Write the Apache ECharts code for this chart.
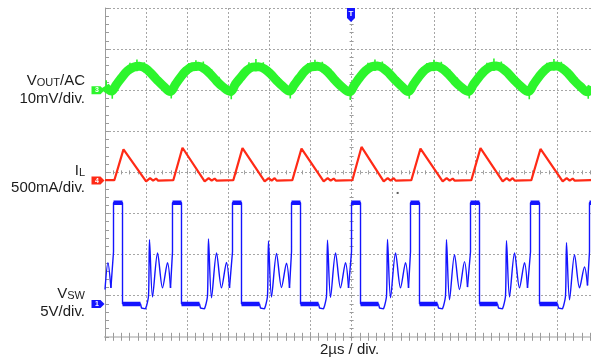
<!DOCTYPE html>
<html><head><meta charset="utf-8">
<script src="https://cdn.jsdelivr.net/npm/echarts@6/dist/echarts.min.js"></script>
<style>html,body{margin:0;padding:0;background:#fff}#c{width:591px;height:360px}</style>
</head><body><div id="c"></div>
<script>
// time in divisions (2 µs/div), amplitude in divisions
const voutTrace = [
 [0,6.10],[0.06,6.03],
 [0.157,5.98],[0.279,6.14],[0.400,6.30],[0.546,6.47],[0.692,6.56],[0.838,6.58],[0.984,6.53],[1.130,6.40],[1.276,6.24],[1.422,6.10],
 [1.592,5.97],[1.714,6.14],[1.835,6.31],[1.981,6.48],[2.127,6.57],[2.273,6.58],[2.419,6.52],[2.565,6.39],[2.711,6.23],[2.857,6.09],
 [3.052,5.97],[3.174,6.15],[3.295,6.30],[3.441,6.47],[3.587,6.56],[3.733,6.57],[3.879,6.52],[4.025,6.40],[4.171,6.24],[4.317,6.10],
 [4.488,5.98],[4.610,6.14],[4.731,6.30],[4.877,6.48],[5.023,6.57],[5.169,6.58],[5.315,6.53],[5.461,6.40],[5.607,6.23],[5.753,6.09],
 [5.948,5.96],[6.070,6.13],[6.191,6.30],[6.337,6.47],[6.483,6.57],[6.629,6.59],[6.775,6.53],[6.921,6.40],[7.067,6.24],[7.213,6.10],
 [7.383,5.97],[7.505,6.14],[7.626,6.31],[7.772,6.48],[7.918,6.57],[8.064,6.58],[8.210,6.52],[8.356,6.39],[8.502,6.23],[8.648,6.09],
 [8.843,5.97],[8.965,6.14],[9.086,6.30],[9.232,6.47],[9.378,6.57],[9.524,6.59],[9.670,6.53],[9.816,6.40],[9.962,6.24],[10.108,6.10],
 [10.303,5.97],[10.425,6.14],[10.546,6.31],[10.692,6.48],[10.838,6.58],[10.984,6.59],[11.130,6.53],[11.276,6.40],[11.422,6.23],[11.568,6.09],
 [11.738,5.96],[11.85,6.08]
];
// visible noise spikes on V_OUT: [time, low, high]
const voutNoise = [
 [0.03,5.96,6.24],[0.177,5.79,6.06],[0.337,6.10,6.36],[0.607,6.41,6.67],[0.777,6.46,6.75],[0.957,6.43,6.68],[1.157,6.25,6.50],[1.337,6.07,6.31],
 [1.612,5.80,6.07],[1.772,6.12,6.37],[2.042,6.40,6.66],[2.212,6.47,6.73],[2.392,6.45,6.70],[2.592,6.27,6.51],[2.772,6.08,6.33],
 [3.072,5.78,6.05],[3.232,6.13,6.36],[3.502,6.42,6.68],[3.672,6.46,6.76],[3.852,6.44,6.68],[4.052,6.26,6.50],[4.232,6.06,6.32],
 [4.508,5.80,6.06],[4.668,6.11,6.36],[4.938,6.41,6.66],[5.108,6.48,6.74],[5.288,6.43,6.69],[5.488,6.26,6.52],[5.668,6.08,6.31],
 [5.968,5.76,6.05],[6.128,6.12,6.37],[6.398,6.40,6.67],[6.568,6.47,6.75],[6.748,6.45,6.70],[6.948,6.27,6.50],[7.128,6.07,6.32],
 [7.403,5.79,6.06],[7.563,6.13,6.36],[7.833,6.42,6.66],[8.003,6.46,6.74],[8.183,6.44,6.69],[8.383,6.25,6.51],[8.563,6.08,6.31],
 [8.863,5.80,6.05],[9.023,6.11,6.37],[9.293,6.41,6.67],[9.463,6.47,6.77],[9.643,6.45,6.70],[9.843,6.26,6.50],[10.023,6.07,6.33],
 [10.323,5.78,6.06],[10.483,6.12,6.36],[10.753,6.42,6.67],[10.923,6.48,6.76],[11.103,6.44,6.69],[11.303,6.27,6.51],[11.483,6.08,6.31],
 [11.758,5.79,6.06]
];
const ilTrace = [
 [0,3.81],[0.227,3.81],[0.450,4.56],[1.000,3.78],[1.097,3.86],[1.170,3.80],[1.243,3.85],[1.292,3.80],
 [1.662,3.81],[1.885,4.60],[2.425,3.78],[2.522,3.86],[2.595,3.80],[2.668,3.85],[2.717,3.80],
 [3.122,3.81],[3.345,4.59],[3.885,3.78],[3.982,3.86],[4.055,3.80],[4.128,3.86],[4.177,3.80],
 [4.558,3.81],[4.781,4.58],[5.321,3.78],[5.418,3.86],[5.491,3.80],[5.564,3.85],[5.613,3.80],
 [6.018,3.81],[6.241,4.62],[6.781,3.78],[6.878,3.86],[6.951,3.80],[7.024,3.86],[7.073,3.80],
 [7.453,3.81],[7.676,4.58],[8.216,3.78],[8.313,3.86],[8.386,3.80],[8.459,3.85],[8.508,3.80],
 [8.913,3.81],[9.136,4.59],[9.676,3.78],[9.773,3.86],[9.846,3.80],[9.919,3.86],[9.968,3.80],
 [10.373,3.81],[10.596,4.57],[11.136,3.78],[11.233,3.86],[11.306,3.80],[11.379,3.85],[11.428,3.80],
 [11.808,3.81],[11.85,3.83]
];
// V_SW switching edges and flat levels (sharp part)
const vswPulse = [
 [0.144,1.19],[0.207,2.07],[0.207,3.26],[0.426,3.26],[0.426,0.80],[0.864,0.80],[0.888,0.70],[0.986,0.68],[1.010,0.75],'-',
 [1.594,1.19],[1.642,2.07],[1.642,3.26],[1.861,3.26],[1.861,0.80],[2.299,0.80],[2.323,0.70],[2.421,0.68],[2.445,0.75],'-',
 [3.029,1.19],[3.102,2.07],[3.102,3.26],[3.321,3.26],[3.321,0.80],[3.759,0.80],[3.783,0.70],[3.881,0.68],[3.905,0.75],'-',
 [4.489,1.19],[4.538,2.07],[4.538,3.26],[4.757,3.26],[4.757,0.80],[5.195,0.80],[5.219,0.70],[5.317,0.68],[5.341,0.75],'-',
 [5.925,1.19],[5.998,2.07],[5.998,3.26],[6.217,3.26],[6.217,0.80],[6.655,0.80],[6.679,0.70],[6.777,0.68],[6.801,0.75],'-',
 [7.385,1.19],[7.433,2.07],[7.433,3.26],[7.652,3.26],[7.652,0.80],[8.090,0.80],[8.114,0.70],[8.212,0.68],[8.236,0.75],'-',
 [8.820,1.21],[8.893,2.07],[8.893,3.26],[9.112,3.26],[9.112,0.80],[9.550,0.80],[9.574,0.70],[9.672,0.68],[9.696,0.75],'-',
 [10.280,1.19],[10.353,2.07],[10.353,3.26],[10.572,3.26],[10.572,0.80],[11.010,0.80],[11.034,0.70],[11.132,0.68],[11.156,0.75],'-',
 [11.740,1.25],[11.788,2.07],[11.788,3.26],[11.85,3.26]
];
// V_SW ringing after the inductor current reaches zero
const vswRing = [
 [0,1.15],[0.071,1.80],[0.144,1.19],'-',
 [1.010,0.75],[1.059,1.00],[1.083,2.36],[1.156,0.97],[1.278,2.04],[1.399,1.19],[1.521,1.80],[1.594,1.19],'-',
 [2.445,0.75],[2.494,1.00],[2.518,2.38],[2.591,0.95],[2.713,2.04],[2.834,1.19],[2.956,1.81],[3.029,1.19],'-',
 [3.905,0.75],[3.954,1.00],[3.978,2.33],[4.051,0.97],[4.173,2.03],[4.294,1.20],[4.416,1.79],[4.489,1.19],'-',
 [5.341,0.75],[5.390,1.00],[5.414,2.35],[5.487,0.96],[5.609,2.04],[5.730,1.19],[5.852,1.80],[5.925,1.19],'-',
 [6.801,0.75],[6.850,1.00],[6.874,2.37],[6.947,0.95],[7.069,2.04],[7.190,1.19],[7.312,1.80],[7.385,1.19],'-',
 [8.236,0.75],[8.285,1.00],[8.309,2.36],[8.382,0.90],[8.504,2.00],[8.625,1.15],[8.747,1.83],[8.820,1.21],'-',
 [9.696,0.75],[9.745,1.00],[9.769,2.34],[9.842,0.97],[9.964,2.04],[10.085,1.19],[10.207,1.80],[10.280,1.19],'-',
 [11.156,0.75],[11.205,1.00],[11.229,2.29],[11.302,0.90],[11.424,2.00],[11.545,1.19],[11.667,1.70],[11.740,1.25]
];
const bandLevels = [3.26, 0.80];          // flat, noisy high/low levels of V_SW
const channelIds = ['3', '4', '1'];        // V_OUT, I_L, V_SW
const channelLevels = [6.0, 3.80, 0.80];   // ground markers (div)
const triggerPos = [5.985, 8];
const strayDot = [[7.12, 3.50]];
const leftLabels = [
  ['{m|V}{s|OUT}{m|/AC}', 80.5], ['{m|10mV/div.}', 99],
  ['{m|I}{s|L}', 171], ['{m|500mA/div.}', 188.3],
  ['{m|V}{s|SW}', 293.8], ['{m|5V/div.}', 311.7]
];
const timeLabel = '2µs / div.';

const F = '"Liberation Sans", Arial, sans-serif';
const TXT = '#1c1c1c';
const GREEN = '#2cf52c', RED = '#ff2a16', BLUE = '#1414ff';

function bands(trace, levels) {
  const out = [];
  for (let i = 0; i < trace.length - 1; i++) {
    const a = trace[i], b = trace[i + 1];
    if (Array.isArray(a) && Array.isArray(b) && a[1] === b[1] && levels.includes(a[1])) out.push(a, b, '-');
  }
  return out;
}
function spikes(list) {
  const out = [];
  list.forEach(([t, lo, hi]) => { out.push([t, lo], [t, hi], '-'); });
  return out;
}
const chanColors = [GREEN, RED, BLUE];
function chanMarker(i) {
  return {
    symbol: 'path://M0,0 L9,0 L13,4 L9,8 L0,8 Z', symbolSize: [13, 8], symbolOffset: [-7, 0],
    itemStyle: { color: chanColors[i] },
    label: { show: true, position: 'inside', formatter: channelIds[i], color: '#fff', fontSize: 7, fontWeight: 'bold', fontFamily: F, offset: [-1, 0] },
    data: [{ coord: [0, channelLevels[i]] }], animation: false
  };
}

const chart = echarts.init(document.getElementById('c'), null, { renderer: 'canvas' });
const tickGray = '#9a9a9a';
const xBase = { type: 'value', gridIndex: 0, min: 0, max: 12, interval: 1, axisLabel: { show: false } };
const yBase = { type: 'value', gridIndex: 0, min: 0, max: 8, interval: 1, axisLabel: { show: false } };
chart.setOption({
  animation: false,
  grid: [{ left: 105, top: 8, width: 493.2, height: 328.8, outerBoundsMode: 'none', containLabel: false }],
  xAxis: [
    Object.assign({}, xBase, { position: 'bottom',
      axisLine: { show: true, lineStyle: { color: '#c4c4c4', width: 2 } },
      axisTick: { show: true, inside: true, length: 4, lineStyle: { color: tickGray } },
      minorTick: { show: true, splitNumber: 5, length: 4, lineStyle: { color: tickGray } },
      splitLine: { show: true, lineStyle: { color: '#a6a6a6', type: [2, 2], width: 1 } } }),
    Object.assign({}, xBase, { position: 'top',
      axisLine: { show: true, lineStyle: { color: '#cfcfcf', width: 2 } },
      axisTick: { show: true, inside: true, length: 4, lineStyle: { color: tickGray } },
      minorTick: { show: true, splitNumber: 5, length: 4, lineStyle: { color: tickGray } },
      splitLine: { show: false } }),
    Object.assign({}, xBase, { position: 'bottom', offset: -164.4,
      axisLine: { show: false }, axisTick: { show: true, inside: true, length: 2, lineStyle: { color: tickGray } },
      minorTick: { show: true, splitNumber: 5, length: 2, lineStyle: { color: tickGray } }, splitLine: { show: false } }),
    Object.assign({}, xBase, { position: 'bottom', offset: -164.4,
      axisLine: { show: false }, axisTick: { show: true, inside: false, length: 2, lineStyle: { color: tickGray } },
      minorTick: { show: true, splitNumber: 5, length: 2, lineStyle: { color: tickGray } }, splitLine: { show: false } })
  ],
  yAxis: [
    Object.assign({}, yBase, { position: 'left',
      axisLine: { show: true, lineStyle: { color: '#9c9c9c', width: 1 } },
      axisTick: { show: true, inside: true, length: 4, lineStyle: { color: tickGray } },
      minorTick: { show: true, splitNumber: 5, length: 4, lineStyle: { color: tickGray } },
      splitLine: { show: true, lineStyle: { color: '#a6a6a6', type: [2, 2], width: 1 } } }),
    Object.assign({}, yBase, { position: 'left', offset: -246.6,
      axisLine: { show: false }, axisTick: { show: true, inside: true, length: 2, lineStyle: { color: tickGray } },
      minorTick: { show: true, splitNumber: 5, length: 2, lineStyle: { color: tickGray } }, splitLine: { show: false } }),
    Object.assign({}, yBase, { position: 'left', offset: -246.6,
      axisLine: { show: false }, axisTick: { show: true, inside: false, length: 2, lineStyle: { color: tickGray } },
      minorTick: { show: true, splitNumber: 5, length: 2, lineStyle: { color: tickGray } }, splitLine: { show: false } })
  ],
  series: [
    { type: 'line', data: voutTrace, smooth: 0.4, showSymbol: false, lineStyle: { color: GREEN, width: 9 }, z: 3,
      markPoint: chanMarker(0) },
    { type: 'line', data: spikes(voutNoise), showSymbol: false, connectNulls: false,
      lineStyle: { color: GREEN, width: 1.6 }, z: 3 },
    { type: 'line', data: ilTrace, showSymbol: false, lineStyle: { color: RED, width: 2.2 }, z: 3,
      markPoint: chanMarker(1) },
    { type: 'line', data: vswPulse, showSymbol: false, connectNulls: false, lineStyle: { color: BLUE, width: 1.4 }, z: 3,
      markPoint: chanMarker(2) },
    { type: 'line', data: vswRing, smooth: 0.3, showSymbol: false, connectNulls: false, lineStyle: { color: BLUE, width: 1.4 }, z: 3 },
    { type: 'line', data: bands(vswPulse, bandLevels), showSymbol: false, connectNulls: false,
      lineStyle: { color: BLUE, width: 4.5 }, z: 4,
      markPoint: {
        symbol: 'path://M0,0 L10,0 L10,10 L5,14 L0,10 Z', symbolSize: [8, 14], symbolOffset: [0, 7],
        itemStyle: { color: BLUE },
        label: { show: true, position: 'inside', formatter: 'T', color: '#fff', fontSize: 8, fontWeight: 'bold', fontFamily: F, offset: [0, -1] },
        data: [{ coord: triggerPos }]
      } },
    { type: 'scatter', data: strayDot, symbol: 'rect', symbolSize: 2, itemStyle: { color: '#333' }, z: 5 }
  ],
  graphic: leftLabels.map(([t, y]) => ({
    type: 'text', x: 85, y: y,
    style: { text: t, align: 'right', verticalAlign: 'middle',
      rich: { m: { fontSize: 15, lineHeight: 15, fontFamily: F, fill: TXT, color: TXT },
              s: { fontSize: 11, lineHeight: 8, verticalAlign: 'bottom', fontFamily: F, fill: TXT, color: TXT } } }
  })).concat([{
    type: 'text', x: 349.5, y: 350,
    style: { text: timeLabel, align: 'center', verticalAlign: 'middle', fontSize: 15, fontFamily: F, fill: TXT }
  }])
});
</script></body></html>
